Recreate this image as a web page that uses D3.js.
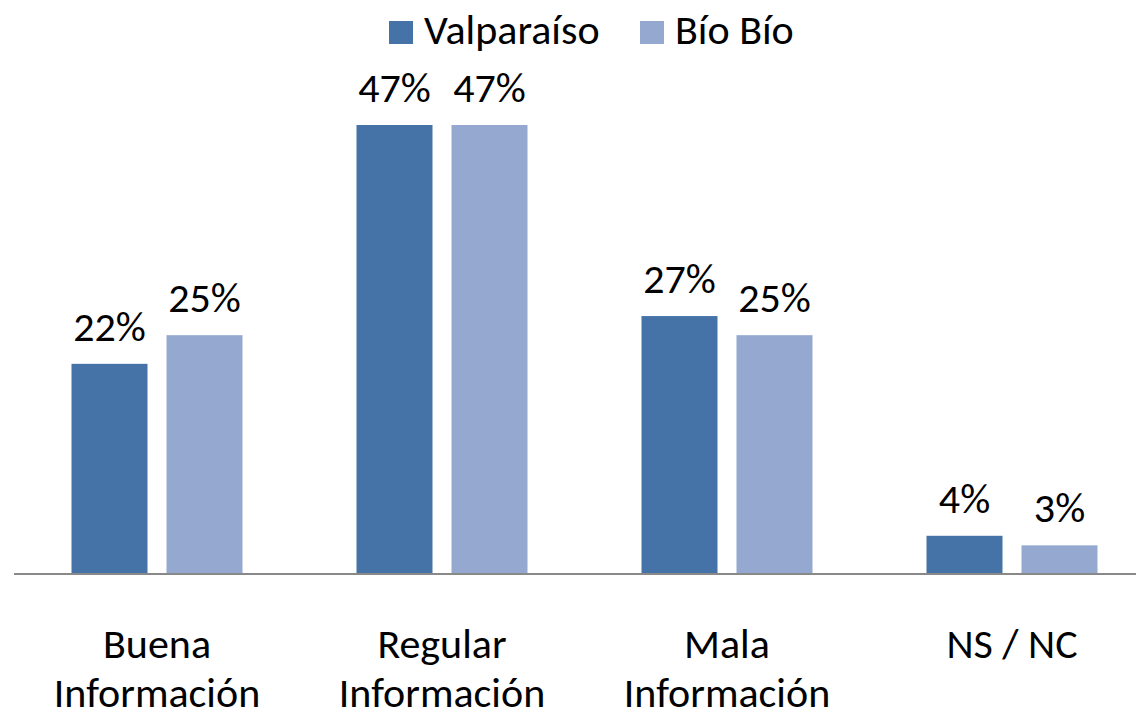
<!DOCTYPE html>
<html>
<head>
<meta charset="utf-8">
<script src="https://cdn.jsdelivr.net/npm/d3@7"></script>
<style>
  body { margin: 0; background: #fff; }
  svg text { font-family: Carlito, Calibri, "Open Sans", sans-serif; fill: #000; }
</style>
</head>
<body>
<div id="chart"></div>
<script>
var categories = [["Buena", "Información"], ["Regular", "Información"], ["Mala", "Información"], ["NS / NC"]];
var seriesNames = ["Valparaíso", "Bío Bío"];
var valparaiso = [22, 47, 27, 4];
var bioBio = [25, 47, 25, 3];
var colors = ["#4573a7", "#95a9d0"];

var width = 1136, height = 709;
var baseY = 574;

var svg = d3.select("#chart").append("svg")
    .attr("width", width)
    .attr("height", height);

var keys = categories.map(function(d) { return d.join(" "); });

var x = d3.scaleBand()
    .domain(keys)
    .range([14.5, 1154.5]);

var x1 = d3.scaleBand()
    .domain(seriesNames)
    .range([57, 228])
    .paddingInner(0.2);

var y = d3.scaleLinear()
    .domain([0, 47])
    .range([baseY, 125]);

var data = keys.map(function(k, i) {
  return { key: k, vals: [valparaiso[i], bioBio[i]] };
});

var groups = svg.selectAll(".grp")
    .data(data)
    .enter().append("g")
    .attr("class", "grp")
    .attr("transform", function(d) { return "translate(" + x(d.key) + ",0)"; });

groups.selectAll("rect")
    .data(function(d) { return d.vals.map(function(v, j) { return { name: seriesNames[j], v: v, j: j }; }); })
    .enter().append("rect")
    .attr("x", function(d) { return x1(d.name); })
    .attr("y", function(d) { return y(d.v); })
    .attr("width", x1.bandwidth())
    .attr("height", function(d) { return baseY - y(d.v); })
    .attr("fill", function(d) { return colors[d.j]; });

groups.selectAll(".val")
    .data(function(d) { return d.vals.map(function(v, j) { return { name: seriesNames[j], v: v }; }); })
    .enter().append("text")
    .attr("class", "val")
    .attr("x", function(d) { return x1(d.name) + x1.bandwidth() / 2; })
    .attr("y", function(d) { return y(d.v) - 23; })
    .attr("text-anchor", "middle")
    .style("font-size", "42px")
    .text(function(d) { return d.v + "%"; });

// axis line
svg.append("line")
    .attr("x1", 14).attr("x2", width)
    .attr("y1", baseY).attr("y2", baseY)
    .attr("stroke", "#898989")
    .attr("stroke-width", 2);

// category labels
groups.each(function(d, i) {
  var t = d3.select(this).append("text")
      .attr("text-anchor", "middle")
      .style("font-size", "42px");
  categories[i].forEach(function(line, k) {
    t.append("tspan")
      .attr("x", x.bandwidth() / 2)
      .attr("y", 658 + k * 49)
      .text(line);
  });
});

// legend
var legend = svg.append("g");
var legendX = [389, 640];
seriesNames.forEach(function(name, i) {
  legend.append("rect")
    .attr("x", legendX[i]).attr("y", 21)
    .attr("width", 24).attr("height", 23)
    .attr("fill", colors[i]);
  legend.append("text")
    .attr("x", legendX[i] + 35).attr("y", 44)
    .style("font-size", "42px")
    .text(name);
});
</script>
</body>
</html>
